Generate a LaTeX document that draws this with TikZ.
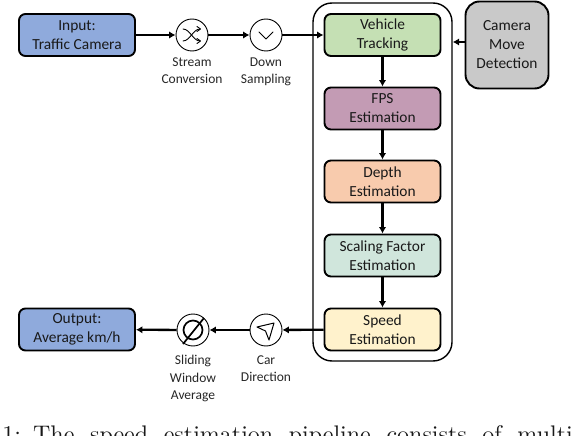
\documentclass[tikz,border=0pt]{standalone}
\usepackage{fontspec}
\setmainfont{Carlito}
\newfontfamily\capfont{Latin Modern Roman}
\usetikzlibrary{arrows.meta}
\tikzset{
 x=1pt,y=-1pt,
 stagebox/.style={draw=black,line width=1.9pt,rounded corners=6.5pt,minimum width=116pt,minimum height=42pt,inner sep=0pt,align=center,font=\fontsize{15.4}{19}\selectfont,text=black!90,execute at begin node={\rule{0pt}{13pt}}},
 opcircle/.style={draw=black,line width=0.9pt,circle,minimum size=32pt,inner sep=0pt,fill=white},
 oplabel/.style={align=center,font=\fontsize{13.5}{17.5}\selectfont,text=black!85},
 flow/.style={draw=black,line width=2.3pt,-{Latex[length=6.5pt,width=7.5pt]}},
 thinflow/.style={flow,line width=2.1pt},
 glyph/.style={draw=black,line width=0.9pt,line cap=round,line join=round},
}
\definecolor{cblue}{HTML}{8FAADC}
\definecolor{cgreen}{HTML}{C5E0B4}
\definecolor{cpurple}{HTML}{C39BB4}
\definecolor{corange}{HTML}{F8CBAD}
\definecolor{cteal}{HTML}{D0E6DC}
\definecolor{cyellow}{HTML}{FFF2CC}
\definecolor{cgray}{HTML}{C9C9C9}
\begin{document}
\begin{tikzpicture}
\useasboundingbox (0,0) rectangle (584,436);
\clip (0,0) rectangle (584,436);
% container
\node[draw=black,line width=1.4pt,rounded corners=19pt,minimum width=139pt,inner sep=0pt,minimum height=358pt] (group) at (382.5,182) {};
% boxes
\node[stagebox,fill=cblue] (input) at (77,35) {Input:\\Traffic Camera};
\node[stagebox,fill=cblue] (output) at (77,329.5) {Output:\\Average km/h};
\node[stagebox,fill=cgreen] (track) at (382.5,35) {Vehicle\\Tracking};
\node[stagebox,fill=cpurple] (fps) at (382.5,108.5) {FPS\\Estimation};
\node[stagebox,fill=corange] (depth) at (382.5,181.5) {Depth\\Estimation};
\node[stagebox,fill=cteal] (scale) at (382.5,255.5) {Scaling Factor\\Estimation};
\node[stagebox,fill=cyellow] (speed) at (382.5,329.5) {Speed\\Estimation};
\node[stagebox,fill=cgray,minimum width=83pt,minimum height=87pt,rounded corners=14pt] (cam) at (507,45) {Camera\\Move\\Detection};
% operator circles
\node[opcircle] (stream) at (192,35) {};
\node[opcircle] (down) at (266,35) {};
\node[opcircle] (slide) at (193,330) {};
\node[opcircle] (car) at (266,330) {};
% operator labels
\node[oplabel,anchor=north] (streamL) at (192,54) {Stream\\Conversion};
\node[oplabel,anchor=north] (downL) at (266,54) {Down\\Sampling};
\node[oplabel,anchor=north] (slideL) at (193,352) {Sliding\\Window\\Average};
\node[oplabel,anchor=north] (carL) at (266,352) {Car\\Direction};
% connectors
\draw[flow] (input) -- (stream);
\draw[flow] (stream) -- (down);
\draw[thinflow] (down) -- (track);
\draw[flow] (track) -- (fps);
\draw[flow] (fps) -- (depth);
\draw[flow] (depth) -- (scale);
\draw[thinflow] (scale) -- (speed);
\draw[flow] (speed) -- (car);
\draw[flow] (car) -- (slide);
\draw[flow] (slide) -- (output);
\draw[thinflow] (cam.west |- 0,42) -- (group.east |- 0,42);
% glyphs
\draw[glyph] (183,29) .. controls (190,29) and (193,41) .. (200,41);
\draw[glyph] (183,41) .. controls (190,41) and (193,29) .. (200,29);
\draw[glyph] (197,26.5) -- (200.5,29) -- (197,31.5);
\draw[glyph] (197,38.5) -- (200.5,41) -- (197,43.5);
\draw[glyph] (259,32) -- (266,39) -- (273,32);
\draw[draw=black,line width=1.7pt] (193,330) circle (9.5pt);
\draw[draw=black,line width=1.7pt] (183,344) -- (204,318);
\draw[glyph,line width=1pt] (257,327) -- (274,323) -- (269,340) -- (265.5,331) -- cycle;
% caption
\node[anchor=base west,inner sep=0pt,scale=2.4,font=\capfont\fontsize{10}{12}\selectfont,text=black!90] (caption) at (2,442.5) {\hbox{1:\hskip 5pt The\hskip 6.5pt speed\hskip 6.5pt estimation\hskip 6.5pt pipeline\hskip 6.5pt consists\hskip 6.5pt of\hskip 6.5pt multi}};
\end{tikzpicture}
\end{document}
